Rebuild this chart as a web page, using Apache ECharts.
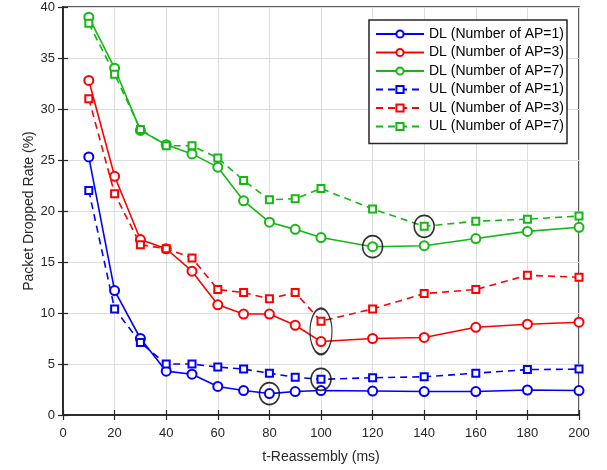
<!DOCTYPE html>
<html><head><meta charset="utf-8">
<script src="https://cdn.jsdelivr.net/npm/echarts@6/dist/echarts.min.js"></script>
<style>html,body{margin:0;padding:0;background:#fff}#c{width:607px;height:470px}</style>
</head><body><div id="c"></div>
<script>
const xValues = [10,20,30,40,50,60,70,80,90,100,120,140,160,180,200];
const dlAP1 = [25.3,12.2,7.5,4.3,4.0,2.8,2.4,2.1,2.3,2.4,2.35,2.3,2.3,2.45,2.4];
const dlAP3 = [32.8,23.4,17.2,16.3,14.1,10.8,9.9,9.9,8.8,7.2,7.5,7.6,8.6,8.9,9.1];
const dlAP7 = [39.0,34.0,27.9,26.5,25.6,24.3,21.0,18.9,18.2,17.4,16.5,16.6,17.3,18.0,18.4];
const ulAP1 = [22.0,10.4,7.1,5.0,5.0,4.7,4.5,4.1,3.7,3.5,3.65,3.75,4.1,4.45,4.5];
const ulAP3 = [31.0,21.7,16.7,16.3,15.4,12.3,12.0,11.4,12.0,9.2,10.4,11.9,12.3,13.7,13.5];
const ulAP7 = [38.4,33.4,28.0,26.4,26.4,25.2,23.0,21.1,21.2,22.2,20.2,18.5,19.0,19.2,19.5];
const highlightX = [80,100,100,120,140];
const highlightY = [2.1,3.5,8.2,16.5,18.5];
const highlightSize = [[20,22],[20,22],[22,46],[20,22],[20,22]];
const seriesNames = ['DL (Number of AP=1)','DL (Number of AP=3)','DL (Number of AP=7)','UL (Number of AP=1)','UL (Number of AP=3)','UL (Number of AP=7)'];
const xTicks = {min:0,max:200,interval:20};
const yTicks = {min:0,max:40,interval:5};

const BLUE='#0000ff', RED='#ff0000', GREEN='#14b814';
const FONT='Liberation Sans';
const axisColor='#262626';
function pairs(ys){return xValues.map((x,i)=>[x,ys[i]]);}
function mk(name,data,color,dashed){
  return {name:name,type:'line',data:pairs(data),
    symbol: dashed?'emptyRect':'emptyCircle',
    symbolSize: dashed?7:9,
    lineStyle:{color:color,width:1.6,type: dashed?[7,5]:'solid'},
    itemStyle:{color:color,borderColor:color,borderWidth:1.5},
    emphasis:{disabled:true},z:3};
}
const series=[
  mk(seriesNames[0],dlAP1,BLUE,false),
  mk(seriesNames[1],dlAP3,RED,false),
  mk(seriesNames[2],dlAP7,GREEN,false),
  mk(seriesNames[3],ulAP1,BLUE,true),
  mk(seriesNames[4],ulAP3,RED,true),
  mk(seriesNames[5],ulAP7,GREEN,true),
  {type:'scatter',name:'hl',data:highlightX.map((x,i)=>({value:[x,highlightY[i]],symbolSize:highlightSize[i]})),
   symbol:'circle',itemStyle:{color:'rgba(0,0,0,0)',borderColor:'#000',borderWidth:1.6},z:5,silent:true}
];
const chart=echarts.init(document.getElementById('c'),null,{renderer:'canvas'});
chart.setOption({
  animation:false,
  backgroundColor:'#fff',
  textStyle:{fontFamily:FONT},
  grid:{left:63,right:28,top:7,bottom:55,show:true,borderColor:axisColor,borderWidth:1.5,containLabel:false},
  legend:{data:seriesNames,orient:'vertical',left:369,top:20,
    padding:[7,3,10,6],itemWidth:48,itemHeight:9,itemGap:4.5,
    borderColor:axisColor,borderWidth:1.5,backgroundColor:'#fff',
    textStyle:{fontFamily:FONT,fontSize:14,color:'#000'},z:10},
  xAxis:[{type:'value',min:xTicks.min,max:xTicks.max,interval:xTicks.interval,
    name:'t-Reassembly (ms)',nameLocation:'middle',nameGap:35,
    nameTextStyle:{fontFamily:FONT,fontSize:14,color:axisColor},
    axisLine:{lineStyle:{color:axisColor,width:1.5}},
    axisTick:{inside:true,length:5,lineStyle:{color:axisColor,width:1.2}},
    axisLabel:{fontFamily:FONT,fontSize:13,color:axisColor,margin:12},
    splitLine:{show:true,lineStyle:{color:'#dedede',width:1}}},
   {type:'value',position:'top',min:xTicks.min,max:xTicks.max,interval:xTicks.interval,
    axisLine:{show:true,lineStyle:{color:axisColor,width:1.5}},
    axisTick:{inside:true,length:5,lineStyle:{color:axisColor,width:1.2}},
    axisLabel:{show:false},splitLine:{show:false}}],
  yAxis:[{type:'value',min:yTicks.min,max:yTicks.max,interval:yTicks.interval,
    name:'Packet Dropped Rate (%)',nameLocation:'middle',nameGap:27,nameMoveOverlap:false,
    nameTextStyle:{fontFamily:FONT,fontSize:14,color:axisColor},
    axisLine:{show:true,lineStyle:{color:axisColor,width:1.5}},
    axisTick:{show:true,inside:true,length:5,lineStyle:{color:axisColor,width:1.2}},
    axisLabel:{fontFamily:FONT,fontSize:13,color:axisColor,margin:8},
    splitLine:{show:true,lineStyle:{color:'#dedede',width:1}}},
   {type:'value',position:'right',min:yTicks.min,max:yTicks.max,interval:yTicks.interval,
    axisLine:{show:true,lineStyle:{color:axisColor,width:1.5}},
    axisTick:{show:true,inside:true,length:5,lineStyle:{color:axisColor,width:1.2}},
    axisLabel:{show:false},splitLine:{show:false}}],
  series:series
});
</script></body></html>
